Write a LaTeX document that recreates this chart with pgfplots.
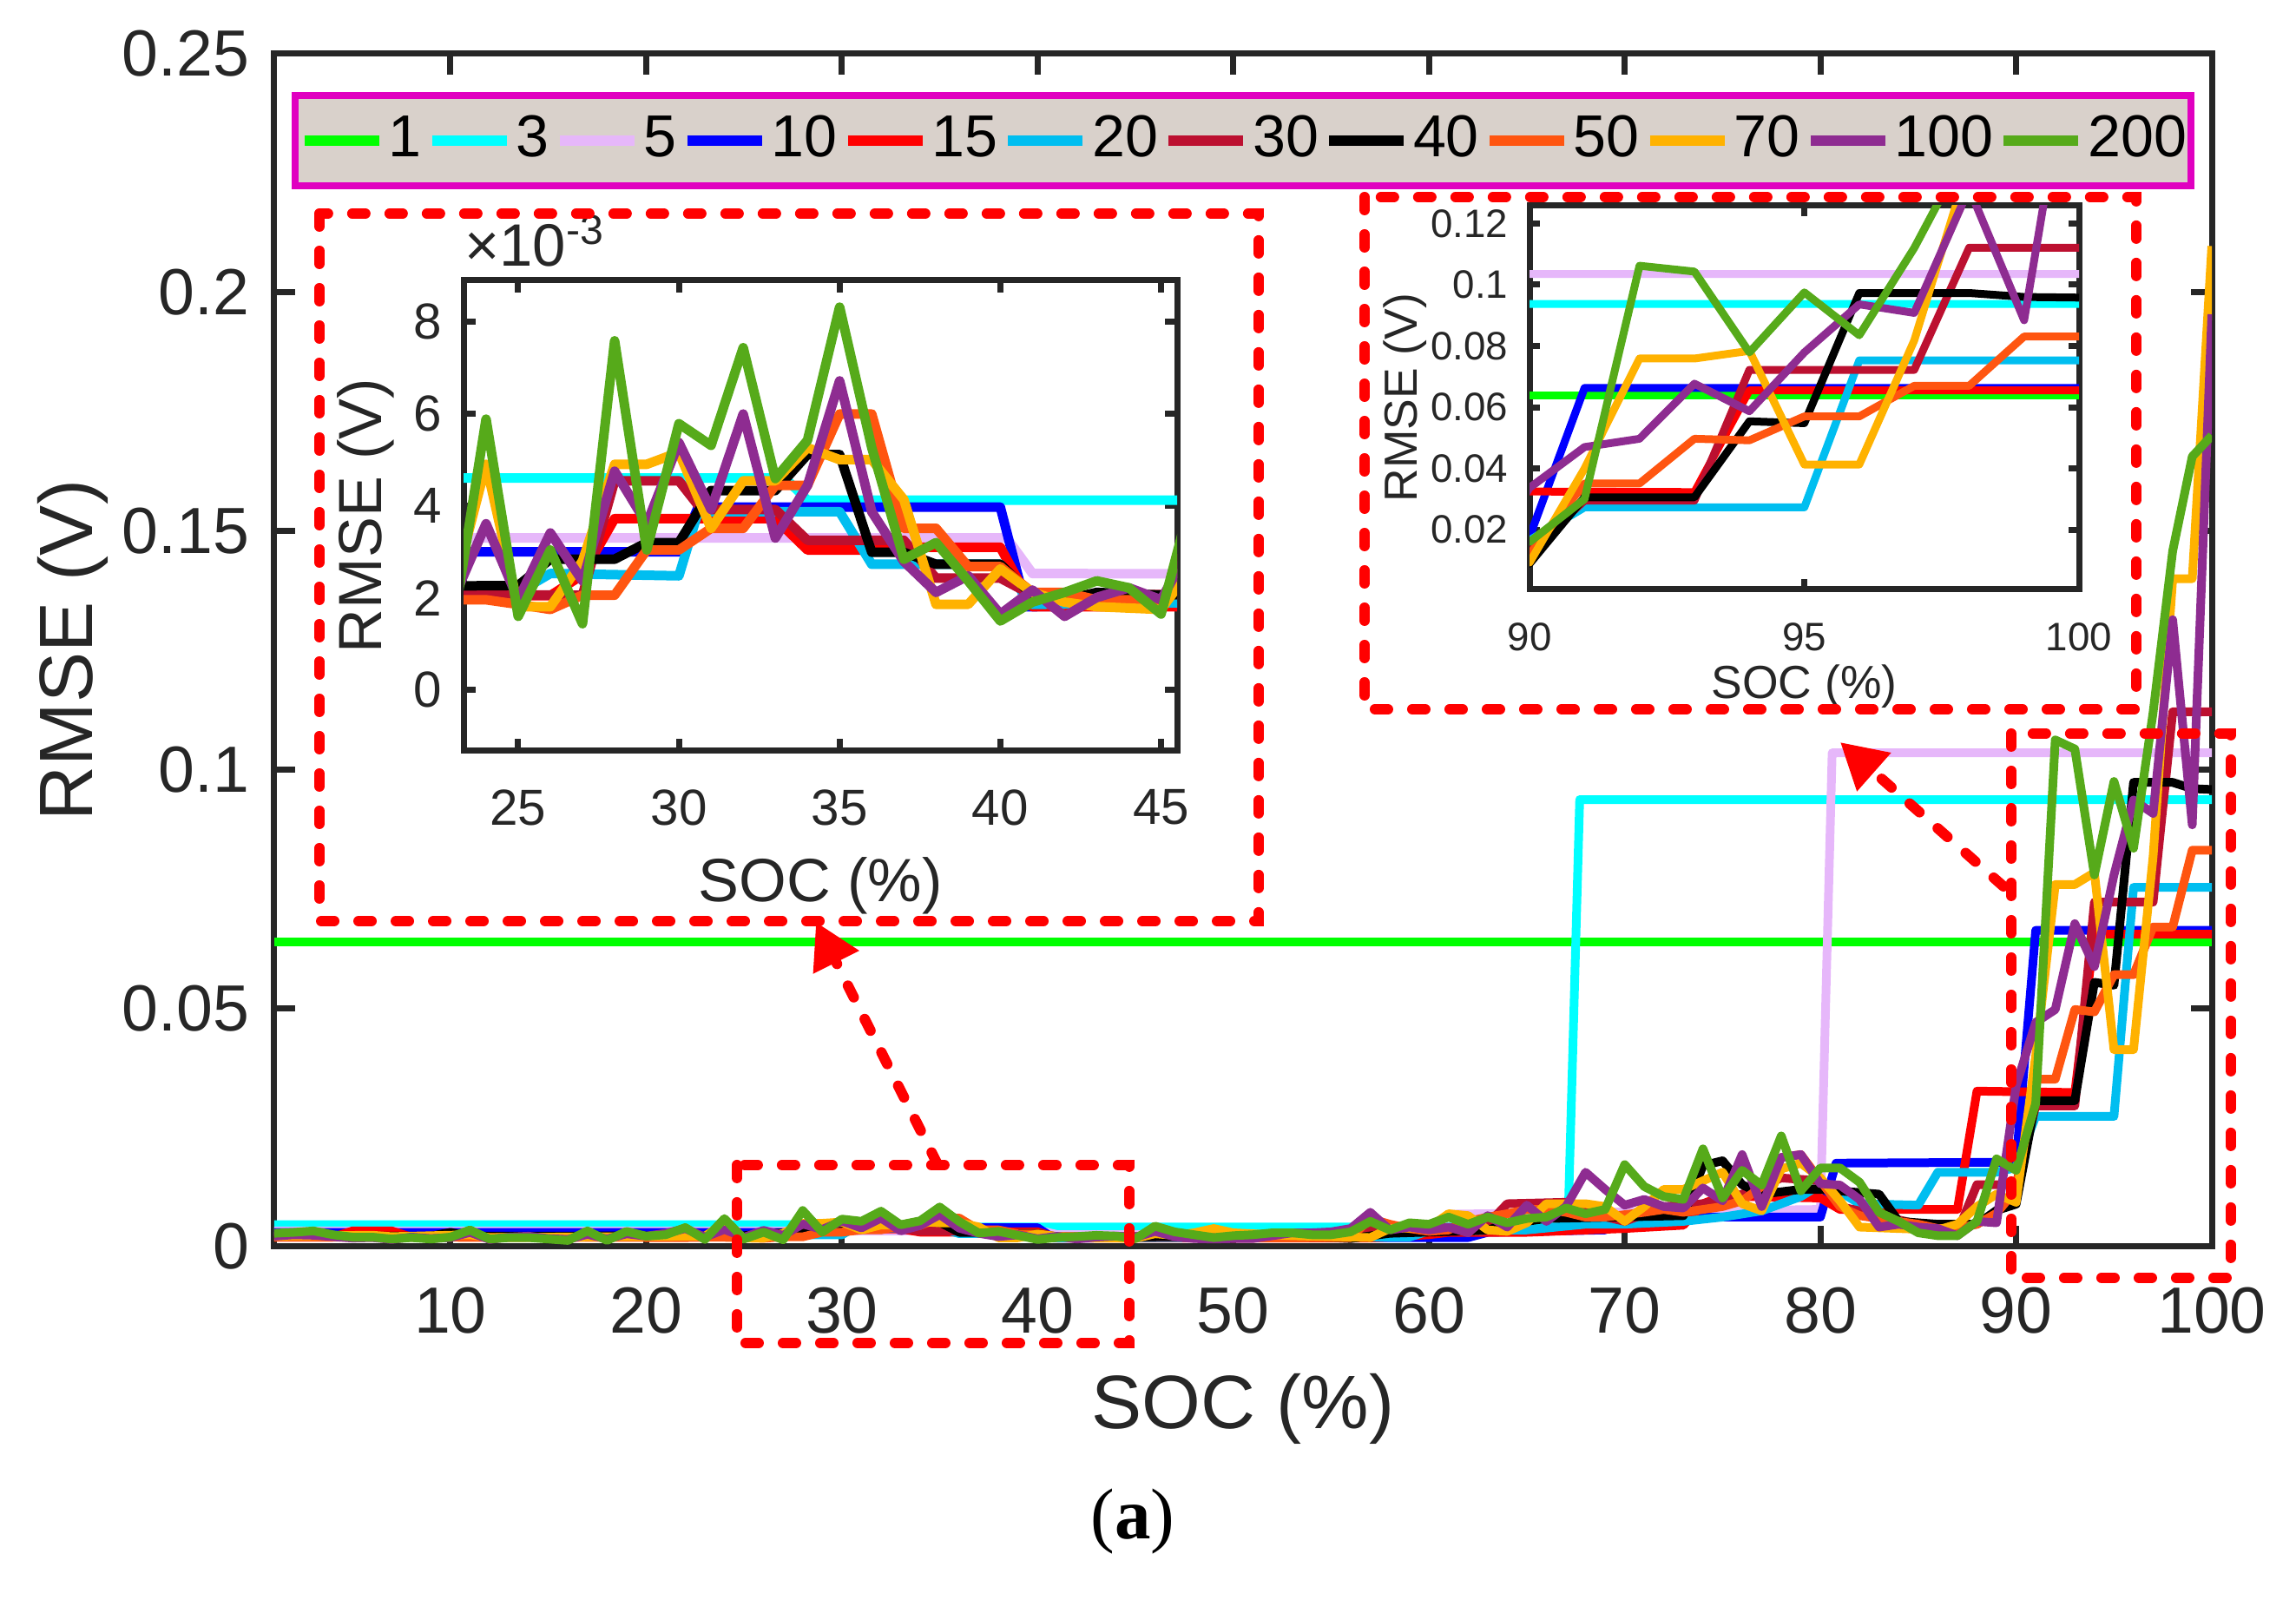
\documentclass[border=0pt]{standalone}
\usepackage{fontspec}
\setmainfont{Liberation Sans}
\newfontfamily\seriffont{Liberation Serif}
\usepackage{pgfplots}
\pgfplotsset{compat=1.18}
\usepackage{pgfplotstable}
\usetikzlibrary{arrows.meta}

\definecolor{axcol}{HTML}{262626}
\definecolor{legmag}{HTML}{E000C0}
\definecolor{legfill}{HTML}{D9D1CB}
\definecolor{cA}{HTML}{00FF00}
\definecolor{cB}{HTML}{00FFFF}
\definecolor{cC}{HTML}{E6B7FA}
\definecolor{cD}{HTML}{0000FF}
\definecolor{cE}{HTML}{FF0000}
\definecolor{cF}{HTML}{00BEF0}
\definecolor{cG}{HTML}{BC1030}
\definecolor{cH}{HTML}{000000}
\definecolor{cI}{HTML}{FF5510}
\definecolor{cJ}{HTML}{FFB200}
\definecolor{cK}{HTML}{8E2C91}
\definecolor{cL}{HTML}{56AA1A}

% RMSE (V) against SOC (%), one table per window size
\pgfplotstableread{
x y
1 0.0638
100 0.0638
}\tOne
\pgfplotstableread{
x y
1 0.0046
33.3 0.0046
34 0.00412
67.1 0.00412
67.7 0.0937
100 0.0937
}\tThree
\pgfplotstableread{
x y
1 0.0033
40.2 0.0033
41 0.00253
60 0.0025
61 0.0068
80 0.0078
80.6 0.1035
100 0.1035
}\tFive
\pgfplotstableread{
x y
1 0.0030
30 0.0030
30.6 0.00397
40 0.00397
40.8 0.00181
62 0.0019
63 0.0030
69 0.0035
70 0.0062
80 0.0062
80.8 0.0175
90 0.0177
91 0.0663
100 0.0663
}\tTen
\pgfplotstableread{
x y
1 0.0020
4 0.0020
5 0.0033
7 0.0033
8 0.0020
26 0.00205
27 0.0025
28 0.00372
33 0.00372
34 0.00304
36 0.00304
37 0.00310
40 0.00310
41 0.00181
57 0.0018
60 0.0025
61 0.0030
65 0.0030
70 0.0038
73 0.0045
74 0.0090
75 0.0106
80 0.0102
81 0.0078
87 0.0078
88 0.0326
93 0.0323
94 0.0655
100 0.0655
}\tFifteen
\pgfplotstableread{
x y
1 0.0021
25 0.00212
26 0.00253
30 0.00248
30.6 0.00387
35 0.00387
36 0.00273
40 0.00273
41 0.00186
59 0.0020
60 0.0033
65 0.0035
68 0.0047
70 0.0047
73 0.0053
75 0.0062
77 0.0075
79 0.0105
80 0.0130
81 0.0115
82 0.0090
85 0.0087
86 0.0156
89 0.0156
90 0.0166
91 0.0273
95 0.0273
96 0.0753
100 0.0753
}\tTwenty
\pgfplotstableread{
x y
1 0.0021
27 0.00206
28 0.00454
30 0.00454
30.7 0.00392
33 0.00392
34 0.00325
37 0.00325
38 0.00243
40 0.00243
41 0.00206
55 0.0021
57 0.0035
61 0.0039
63 0.0047
64 0.0090
67 0.0093
68 0.0072
70 0.0053
72 0.0084
74 0.0090
76 0.0110
78 0.0144
80 0.0138
81 0.0084
85 0.0047
86 0.0030
87 0.0030
88 0.0130
90 0.0130
91 0.0295
93 0.0295
94 0.0722
97 0.0722
98 0.1121
100 0.1121
}\tThirty
\pgfplotstableread{
x y
1 0.0022
9 0.0022
10 0.0030
11 0.0022
25 0.00227
26 0.00284
28 0.00284
29 0.00320
30 0.00320
31 0.00433
33 0.00433
34 0.00511
35 0.00511
36 0.00299
37 0.00299
38 0.00273
40 0.00273
41 0.00206
42 0.00196
43 0.00212
45 0.00206
53 0.0023
56 0.0017
58 0.0028
62 0.0033
63 0.0035
64 0.0047
66 0.0059
73 0.0065
74 0.0170
75 0.0180
76 0.0130
77 0.0110
79 0.0120
80 0.0120
83 0.0110
84 0.0053
86 0.0047
88 0.0047
89 0.0076
90 0.0089
91 0.0306
93 0.0306
94 0.0554
95 0.0548
96 0.0973
98 0.0973
99 0.0960
100 0.0958
}\tForty
\pgfplotstableread{
x y
1 0.0020
22 0.0019
23 0.00196
24 0.00196
25 0.00186
26 0.00175
27 0.00206
28 0.00206
29 0.00304
30 0.00304
31 0.00351
32 0.00351
33 0.00444
34 0.00444
35 0.00599
36 0.00599
37 0.00351
38 0.00351
39 0.00268
40 0.00268
41 0.00212
42 0.00212
43 0.00196
44 0.00196
45 0.00186
46 0.0035
47 0.0028
48 0.0022
50 0.0018
56 0.0019
57 0.0059
58 0.0047
59 0.0038
60 0.0032
61 0.0035
62 0.0053
63 0.0062
64 0.0069
65 0.0078
66 0.0078
67 0.0072
68 0.0062
69 0.0062
71 0.0072
72 0.0078
73 0.0072
74 0.0078
75 0.0084
76 0.0096
77 0.0126
78 0.0187
79 0.0193
80 0.0138
81 0.0084
82 0.0065
83 0.0059
84 0.0053
85 0.0047
86 0.0038
87 0.0038
88 0.0047
89 0.0070
90 0.0120
91 0.0351
92 0.0351
93 0.0497
94 0.0492
95 0.0570
96 0.0570
97 0.0670
98 0.0670
99 0.0831
100 0.0831
}\tFifty
\pgfplotstableread{
x y
1 0.0022
6 0.0024
7 0.0021
11 0.0025
12 0.0019
22 0.0022
23 0.0022
24 0.0049
25 0.00181
26 0.00181
27 0.0028
28 0.0049
29 0.0049
30 0.00516
31 0.00351
32 0.00454
33 0.00454
34 0.00526
35 0.0050
36 0.0050
37 0.00413
38 0.00186
39 0.00186
40 0.00263
41 0.00212
42 0.00191
43 0.00181
45 0.00175
46 0.0027
47 0.0024
48 0.0029
49 0.0038
50 0.0029
53 0.0023
57 0.0019
58 0.0038
60 0.0040
61 0.0069
62 0.0065
63 0.0035
64 0.0032
65 0.0050
66 0.0090
68 0.0090
69 0.0084
70 0.0053
71 0.0084
72 0.0120
73 0.0120
74 0.0138
75 0.0156
76 0.0090
77 0.0075
78 0.0163
79 0.0175
80 0.0144
81 0.0096
82 0.0041
86 0.0035
87 0.0047
88 0.0084
89 0.0110
90 0.0093
91 0.0400
92 0.0759
93 0.0759
94 0.0784
95 0.0413
96 0.0413
97 0.0818
98 0.1400
99 0.1400
100 0.2097
}\tSeventy
\pgfplotstableread{
x y
1 0.0022
2 0.0025
3 0.0024
4 0.0021
5 0.0018
6 0.0019
7 0.0015
8 0.0020
9 0.0017
10 0.0019
11 0.0030
12 0.0015
13 0.0020
14 0.0022
15 0.0017
16 0.0015
17 0.0026
18 0.0016
19 0.0027
20 0.0022
21 0.0028
22 0.0038
23 0.0020
24 0.00361
25 0.00196
26 0.00341
27 0.00237
28 0.00475
29 0.00361
30 0.00537
31 0.00392
32 0.00599
33 0.00330
34 0.00444
35 0.00671
36 0.00387
37 0.00279
38 0.00212
39 0.00248
40 0.00165
41 0.00217
42 0.00160
43 0.00201
44 0.00222
45 0.00196
46 0.0032
47 0.0021
48 0.0017
49 0.0016
50 0.0017
51 0.0017
52 0.0023
53 0.0029
54 0.0029
55 0.0031
56 0.0038
57 0.0072
58 0.0035
59 0.0041
60 0.0035
61 0.0041
62 0.0029
63 0.0065
64 0.0041
65 0.0087
66 0.0053
67 0.0084
68 0.0156
69 0.0120
70 0.0087
71 0.0099
72 0.0084
73 0.0081
74 0.0123
75 0.0096
76 0.0193
77 0.0084
78 0.0187
79 0.0193
80 0.0132
81 0.0129
82 0.0099
83 0.0041
84 0.0047
85 0.0041
86 0.0038
87 0.0023
88 0.0053
89 0.0050
90 0.0337
91 0.0470
92 0.0497
93 0.0677
94 0.0587
95 0.0779
96 0.0936
97 0.0908
98 0.1314
99 0.0884
100 0.1954
}\tHundred
\pgfplotstableread{
x y
1 0.0028
2 0.0030
3 0.0033
4 0.0025
5 0.0020
6 0.0020
7 0.0016
8 0.0019
9 0.0016
10 0.0020
11 0.0035
12 0.0016
13 0.0019
14 0.0019
15 0.0016
16 0.0013
17 0.0033
18 0.0013
19 0.0032
20 0.0022
21 0.0025
22 0.0040
23 0.0015
24 0.00588
25 0.00160
26 0.00304
27 0.00144
28 0.00758
29 0.00304
30 0.00578
31 0.00531
32 0.00743
33 0.00459
34 0.00542
35 0.00831
36 0.00526
37 0.00284
38 0.00320
39 0.00237
40 0.00150
41 0.00191
42 0.00212
43 0.00237
44 0.00222
45 0.00165
46 0.0043
47 0.0031
48 0.0025
49 0.0019
50 0.0023
51 0.0025
52 0.0029
53 0.0029
54 0.0025
55 0.0025
56 0.0031
57 0.0053
58 0.0035
59 0.0050
60 0.0047
61 0.0062
62 0.0047
63 0.0062
64 0.0050
65 0.0059
66 0.0062
67 0.0081
68 0.0069
69 0.0078
70 0.0172
71 0.0126
72 0.0105
73 0.0099
74 0.0205
75 0.0102
76 0.0160
77 0.0129
78 0.0232
79 0.0117
80 0.0165
81 0.0165
82 0.0135
83 0.0072
84 0.0053
85 0.0029
86 0.0023
87 0.0023
88 0.0053
89 0.0184
90 0.0160
91 0.0300
92 0.1062
93 0.1043
94 0.0779
95 0.0975
96 0.0835
97 0.1120
98 0.1458
99 0.1656
100 0.1700
}\tTwoHundred

\newcommand{\allseries}{%
  \addplot[cA] table {\tOne};
  \addplot[cB] table {\tThree};
  \addplot[cC] table {\tFive};
  \addplot[cD] table {\tTen};
  \addplot[cE] table {\tFifteen};
  \addplot[cF] table {\tTwenty};
  \addplot[cG] table {\tThirty};
  \addplot[cH] table {\tForty};
  \addplot[cI] table {\tFifty};
  \addplot[cJ] table {\tSeventy};
  \addplot[cK] table {\tHundred};
  \addplot[cL] table {\tTwoHundred};
}

\pgfplotsset{
  mlab/.style={
    scale only axis, anchor=south west,
    axis line style={line width=0.35mm, draw=axcol},
    tick style={line width=0.35mm, draw=axcol},
    tick align=inside,
    /pgf/number format/assume math mode=true,
  },
}
\tikzset{rdash/.style={draw=red, line width=0.6mm, line cap=round, dash pattern=on 0.75mm off 1.4mm}}

\begin{document}
\begin{tikzpicture}
\path[use as bounding box] (0,0) rectangle (132.25mm,92.1mm);

% main axis
\begin{axis}[mlab,
  at={(15.8mm,20.3mm)}, width=111.6mm, height=68.7mm,
  xmin=1, xmax=100, ymin=0, ymax=0.25,
  xtick={10,20,30,40,50,60,70,80,90,100},
  ytick={0,0.05,0.1,0.15,0.2,0.25},
  scaled y ticks=false,
  yticklabel style={/pgf/number format/fixed,/pgf/number format/precision=2, xshift=-0.2mm},
  xticklabel style={yshift=-1.1mm},
  tick label style={font=\fontsize{10.7}{12}\selectfont, text=axcol},
  label style={font=\fontsize{12.4}{14}\selectfont, text=axcol},
  major tick length=1.2mm,
  xlabel={SOC (\%)}, ylabel={RMSE (V)},
  xlabel style={at={(axis description cs:0.5,-0.136)}, anchor=center},
  ylabel style={at={(axis description cs:-0.104,0.5)}, anchor=center},
  every axis plot/.append style={line width=0.5mm, line join=round},
  legend columns=12,
  legend entries={1,3,5,10,15,20,30,40,50,70,100,200},
  legend image code/.code={\draw[#1, line width=0.6mm, line cap=butt] (0mm,0mm) -- (4.3mm,0mm);},
  legend style={at={(rel axis cs:0.5,0.9272)}, anchor=center,
    draw=legmag, line width=0.4mm, fill=legfill,
    inner xsep=0.25mm, inner ysep=0.55mm,
    font=\fontsize{9.7}{11}\selectfont,
    nodes={inner xsep=0pt, inner ysep=0.6mm},
    /tikz/every odd column/.append style={column sep=0.25mm},
    /tikz/every even column/.append style={column sep=0.3mm}},
]
\allseries
\end{axis}

% inset, SOC 23-45
\begin{axis}[mlab,
  at={(26.7mm,48.85mm)}, width=41.1mm, height=27.1mm,
  xmin=23.3, xmax=45.5, ymin=-0.00132, ymax=0.00889,
  xtick={25,30,35,40,45}, ytick={0,0.002,0.004,0.006,0.008},
  scaled y ticks=base 10:3,
  ytick scale label code/.code={×10\textsuperscript{#1}},
  every y tick scale label/.style={at={(rel axis cs:0,1)}, anchor=south west,
    inner sep=0pt, yshift=0.7mm, font=\fontsize{9.8}{11}\selectfont, text=axcol},
  axis background/.style={fill=white},
  tick label style={font=\fontsize{8.3}{10}\selectfont, text=axcol},
  xticklabel style={yshift=-1mm},
  label style={font=\fontsize{10}{12}\selectfont, text=axcol},
  major tick length=0.7mm,
  xlabel={SOC (\%)}, ylabel={RMSE (V)},
  xlabel style={at={(axis description cs:0.5,-0.286)}, anchor=center},
  ylabel style={at={(axis description cs:-0.1375,0.5)}, anchor=center},
  every axis plot/.append style={line width=0.55mm, line join=round},
]
\allseries
\end{axis}

% inset, SOC 90-100
\begin{axis}[mlab,
  at={(88.1mm,58.15mm)}, width=31.65mm, height=22.1mm,
  xmin=90, xmax=100, ymin=0.0005, ymax=0.1258,
  xtick={90,95,100}, ytick={0.02,0.04,0.06,0.08,0.1,0.12},
  scaled y ticks=false,
  yticklabel style={/pgf/number format/fixed,/pgf/number format/precision=2},
  axis background/.style={fill=white},
  tick label style={font=\fontsize{6.5}{8}\selectfont, text=axcol},
  xticklabel style={yshift=-0.7mm},
  label style={font=\fontsize{7.6}{9}\selectfont, text=axcol},
  major tick length=0.6mm,
  xlabel={SOC (\%)}, ylabel={RMSE (V)},
  xlabel style={at={(axis description cs:0.5,-0.253)}, anchor=center},
  ylabel style={at={(axis description cs:-0.226,0.5)}, anchor=center},
  every axis plot/.append style={line width=0.45mm, line join=round},
]
\allseries
\end{axis}

% zoom boxes and arrows, in pixels of the reference
\begin{scope}[x=0.05mm, y=-0.05mm, shift={(0mm,92.1mm)}]
  \draw[rdash] (368,246) rectangle (1450,1061);
  \draw[rdash] (849,1342) rectangle (1301,1547);
  \draw[rdash] (1572,227) rectangle (2461,817);
  \draw[rdash] (2317,845) rectangle (2570,1472);
  \draw[rdash, -{Triangle[length=2.6mm,width=2.8mm]}] (1080,1341) -- (940,1062);
  \draw[rdash, -{Triangle[length=2.6mm,width=2.8mm]}] (2308,1021) -- (2120,855);
  \node[font=\seriffont\fontsize{11.8}{13}\selectfont] at (1305,1753) {(\textbf{a})};
\end{scope}
\end{tikzpicture}
\end{document}
